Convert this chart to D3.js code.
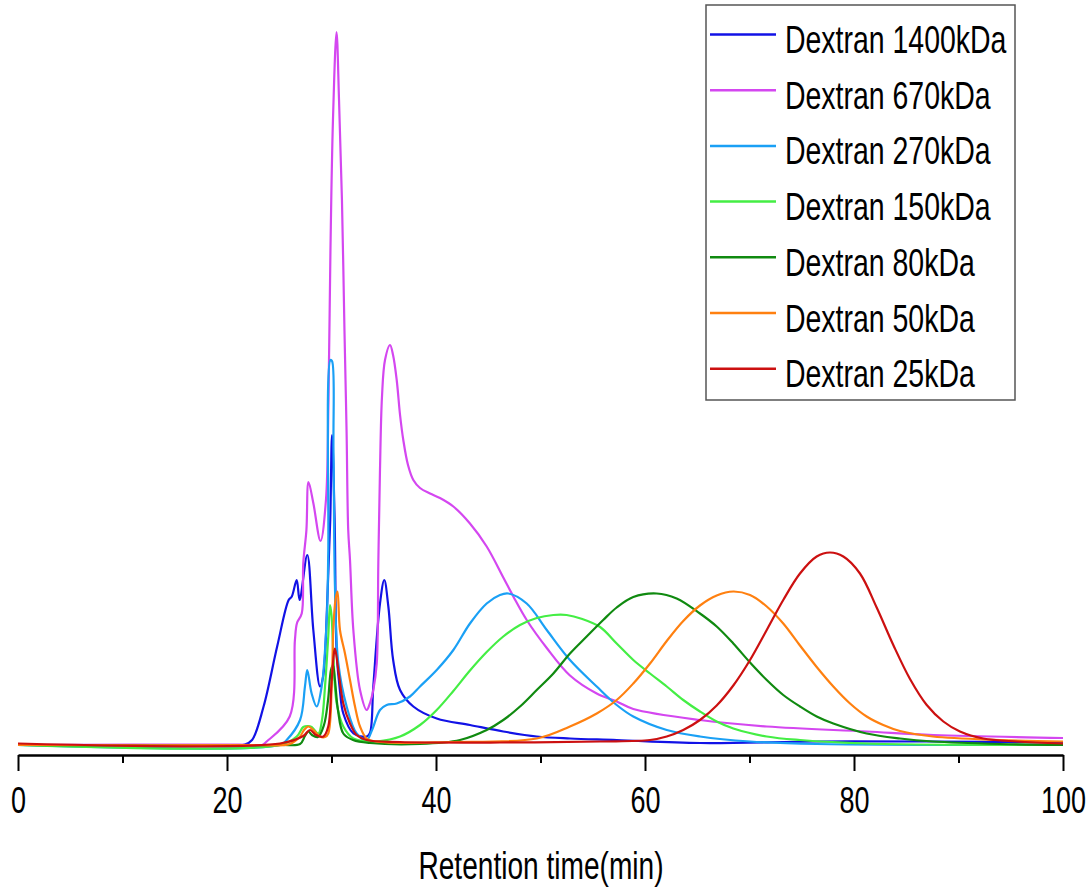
<!DOCTYPE html>
<html>
<head>
<meta charset="utf-8">
<script src="https://cdn.jsdelivr.net/npm/d3@7"></script>
<style>
    body { margin: 0; background: #ffffff; }
    svg { display: block; }
    text { font-family: "Liberation Sans", Arial, sans-serif; fill: #000; }
</style>
</head>
<body>
<div id="chart"></div>
<script>
// retention time (min) and detector signal
var dextran1400 = [[0,0],[17.4,0],[21.7,0.1],[22.4,1],[23.5,7.7],[24.8,19.7],[25.9,29],[26.2,29.7],[26.67,33],[26.95,29],
    [27.68,38],[28.26,23],[28.9,11.7],[29.2,13.7],[29.6,29],[29.88,45],[30.05,62],[30.3,45],[30.5,18.3],[30.8,11],[31.13,6.3],
    [32.1,2.3],[33.37,1.7],[33.68,2.4],[34.0,11.7],[34.64,28.3],[35.05,33],[35.44,27.7],[35.9,17],[36.56,11],[37.83,7.7],
    [40.07,5.3],[43.25,4],[46.44,2.7],[49.64,1.7],[52.82,1.3],[57.3,1],[65.3,0.4],[76.4,0.7],[87.6,0.7],[100,0.5]];

var dextran670 = [[0,0],[21.2,0.1],[23.35,0],[23.8,0.7],[26.0,5.7],[26.5,21],[26.7,24.4],[27.15,26.3],[27.3,36.4],[27.6,43],
    [27.8,52.6],[28.26,48.4],[28.95,40.8],[29.47,49],[29.71,69],[29.9,99],[30.14,125],[30.48,142.6],[30.72,129],[31.0,109],
    [31.24,83],[31.44,63],[31.6,43],[31.77,37],[32.09,23],[32.73,11],[33.37,7],[33.7,8.5],[34.0,11],[34.33,16.3],[34.48,36.4],
    [34.64,55],[34.83,69.6],[35.12,77],[35.6,80],[35.89,78],[36.24,73],[36.56,66],[36.87,61],[37.32,56],[37.83,53],
    [38.47,51.4],[39.43,50.3],[40.38,49.4],[41.66,47.7],[43.25,44.3],[44.85,39.7],[46.44,33.5],[47.4,29.7],[48.68,25],
    [50.6,19.4],[52.82,13.9],[55.38,10.3],[57.29,8.7],[58.88,7.2],[65.26,5],[71.65,3.7],[81.2,2.7],[87.6,2],[100,1.4]];

var dextran270 = [[0,0],[25.07,0],[25.71,1],[26.99,5],[27.46,11.7],[27.68,15],[28.1,10.3],[28.58,7.7],[29.06,11.7],
    [29.54,25],[29.69,38.4],[29.9,77],[30.05,76.8],[30.19,59],[30.33,31.7],[30.65,16.4],[31.45,7.7],[32.41,2.3],[33.37,1],
    [33.88,3],[34.64,7],[35.28,8],[36.24,8.3],[37.51,9.7],[38.47,11.7],[40.07,15],[41.66,19],[43.25,24.3],[44.85,28.3],
    [46.12,30],[46.92,30.3],[48.68,28.3],[50.6,23],[52.82,17],[55.38,11.7],[57.29,8],[58.88,5.7],[62.08,3],[65.26,1.7],
    [70.05,0.7],[76.43,0.2],[100,0]];

var dextran150 = [[0,0],[25.07,0],[26.67,1.7],[27.3,3.6],[27.75,3.8],[28.1,3.6],[28.74,2.3],[29.09,5],[29.38,11.7],
    [29.69,21.7],[29.86,28],[30.0,26],[30.17,18.3],[30.5,8.3],[31.13,3.7],[32.09,1.3],[33.37,0.7],[34.33,0.7],[36.56,1.7],
    [38.47,4],[40.07,7],[41.66,10.8],[43.25,14.9],[44.85,18.6],[46.44,21.7],[48.04,24],[49.64,25.4],[51.23,26],[52.5,26],
    [54.0,25.2],[55.7,23.6],[57.29,20.3],[58.88,17],[60.48,14.3],[62.08,11.7],[63.66,9],[65.26,6.7],[66.86,4.7],[68.45,3.3],
    [71.65,1.7],[74.83,1],[81.2,0.3],[100,0]];

var dextran80 = [[0,0],[25.07,0],[26.99,0.2],[27.46,1.8],[27.78,2.7],[28.13,2],[28.7,1.6],[29.28,4],[29.67,9],[29.95,15],
    [30.14,16],[30.33,13],[30.62,7],[31.13,2.3],[32.06,1],[33.68,0.4],[38.47,0.2],[42.3,1],[44.85,3],[46.44,5],[48.04,7.7],
    [49.64,11],[51.23,14.3],[52.82,18.3],[54.42,21.7],[56.0,25],[57.29,27.5],[58.88,29.6],[61.12,30.3],[63.03,29.3],
    [65.26,26.3],[66.86,23.7],[68.45,20.3],[70.05,16.5],[71.65,13],[73.23,10],[74.83,7.7],[76.43,5.7],[78.02,4.3],
    [81.21,2.3],[84.4,1.3],[87.56,0.7],[93.97,0.2],[100,0]];

var dextran50 = [[0,0],[22.2,0],[26.0,0.2],[26.99,1.7],[27.37,3],[27.78,3.7],[28.26,3],[28.9,1.7],[29.38,1.6],[29.69,2.3],
    [30.02,11.7],[30.17,23],[30.38,29],[30.57,30.7],[30.81,23],[31.29,18.3],[31.77,13],[32.25,7.7],[32.73,3.7],[33.37,1.3],
    [34.64,0.6],[41.34,0.6],[49.64,1.3],[52.82,3.7],[55.38,6.3],[57.29,9],[58.88,12.3],[60.48,16.3],[62.08,20.8],
    [63.66,24.8],[65.26,27.9],[66.86,29.9],[68.45,30.7],[70.05,30],[71.65,27.7],[73.23,24.3],[74.83,19.9],[76.43,15.6],
    [78.02,11.7],[79.62,8.3],[81.21,5.7],[82.8,4],[84.4,2.8],[87.56,1.7],[93.97,1],[100,0.7]];

var dextran25 = [[0,0.3],[25.07,0.3],[27.3,1.8],[27.94,3],[28.52,2],[29.22,1.7],[29.69,3.7],[30.02,13],[30.33,19.3],
    [30.65,15],[31.13,8.3],[31.77,4.3],[32.41,2],[33.37,1],[36.56,0.6],[46.12,0.5],[55.69,0.7],[60.48,1],[62.08,1.7],
    [63.66,3],[65.26,5],[66.86,7.9],[68.45,11.9],[70.05,17],[71.65,23],[73.23,29],[74.83,34.3],[76.43,37.7],[77.7,38.5],
    [78.98,37.7],[80.57,34.3],[82.17,27.5],[83.76,20],[85.36,13.2],[86.96,8],[88.55,4.7],[90.14,2.7],[92.37,1.3],
    [95.57,0.7],[100,0.3]];

var seriesNames = ['Dextran 1400kDa', 'Dextran 670kDa', 'Dextran 270kDa', 'Dextran 150kDa',
    'Dextran 80kDa', 'Dextran 50kDa', 'Dextran 25kDa'];
var seriesData = [dextran1400, dextran670, dextran270, dextran150, dextran80, dextran50, dextran25];
var seriesColors = ['#1212e6', '#d447f0', '#1aa0f5', '#44ee44', '#108a10', '#ff8010', '#cc1010'];

var majorTicks = [0, 20, 40, 60, 80, 100];
var minorTicks = [10, 30, 50, 70, 90];
var xTitle = 'Retention time(min)';

var width = 1089, height = 892;
var squeeze = 0.73; // text in the picture is narrow

var svg = d3.select('#chart')
    .append('svg')
    .attr('width', width)
    .attr('height', height);

svg.append('rect').attr('width', width).attr('height', height).attr('fill', '#fff');

var xScale = d3.scaleLinear().domain([0, 100]).range([18, 1063]);
var yScale = d3.scaleLinear().domain([0, 143]).range([745, 30]);
var axisY = 755;

// minor ticks first, then the major axis with its labels
svg.append('g')
    .attr('transform', 'translate(0,' + axisY + ')')
    .call(d3.axisBottom(xScale).tickValues(minorTicks).tickSize(8).tickFormat(''))
    .call(function(g) { g.select('.domain').remove(); })
    .selectAll('line').attr('stroke', '#000').attr('stroke-width', 2);

var xAxis = svg.append('g')
    .attr('transform', 'translate(0,' + axisY + ')')
    .call(d3.axisBottom(xScale).tickValues(majorTicks).tickSize(16).tickSizeOuter(0).tickFormat(d3.format('d')));

xAxis.select('.domain').attr('stroke', '#000').attr('stroke-width', 2.5);
xAxis.selectAll('.tick line').attr('stroke', '#000').attr('stroke-width', 2);
xAxis.selectAll('.tick text')
    .attr('y', 0)
    .attr('dy', 0)
    .attr('fill', '#000')
    .style('font-size', '37px')
    .style('font-family', '"Liberation Sans", Arial, sans-serif')
    .attr('transform', 'translate(0,58) scale(' + squeeze + ',1)');

svg.append('text')
    .attr('text-anchor', 'middle')
    .attr('transform', 'translate(541,879) scale(' + squeeze + ',1)')
    .style('font-size', '38.5px')
    .text(xTitle);

var line = d3.line()
    .x(function(d) { return xScale(d[0]); })
    .y(function(d) { return yScale(d[1]); })
    .curve(d3.curveCatmullRom.alpha(0.5));

svg.append('g')
    .selectAll('path')
    .data(seriesData)
    .enter()
    .append('path')
    .attr('d', line)
    .attr('fill', 'none')
    .attr('stroke', function(d, i) { return seriesColors[i]; })
    .attr('stroke-width', 2.2)
    .attr('stroke-linejoin', 'round');

// legend box
var legend = svg.append('g');
legend.append('rect')
    .attr('x', 706).attr('y', 5)
    .attr('width', 309).attr('height', 395)
    .attr('fill', '#fff')
    .attr('stroke', '#555')
    .attr('stroke-width', 1.5);

var rows = legend.selectAll('g.row')
    .data(seriesNames)
    .enter()
    .append('g')
    .attr('class', 'row')
    .attr('transform', function(d, i) { return 'translate(0,' + (34.5 + i * 55.7) + ')'; });

rows.append('line')
    .attr('x1', 710).attr('x2', 776)
    .attr('stroke', function(d, i) { return seriesColors[i]; })
    .attr('stroke-width', 2.5);

rows.append('text')
    .attr('transform', 'translate(785,18.5) scale(' + squeeze + ',1)')
    .style('font-size', '39px')
    .text(function(d) { return d; });
</script>
</body>
</html>
